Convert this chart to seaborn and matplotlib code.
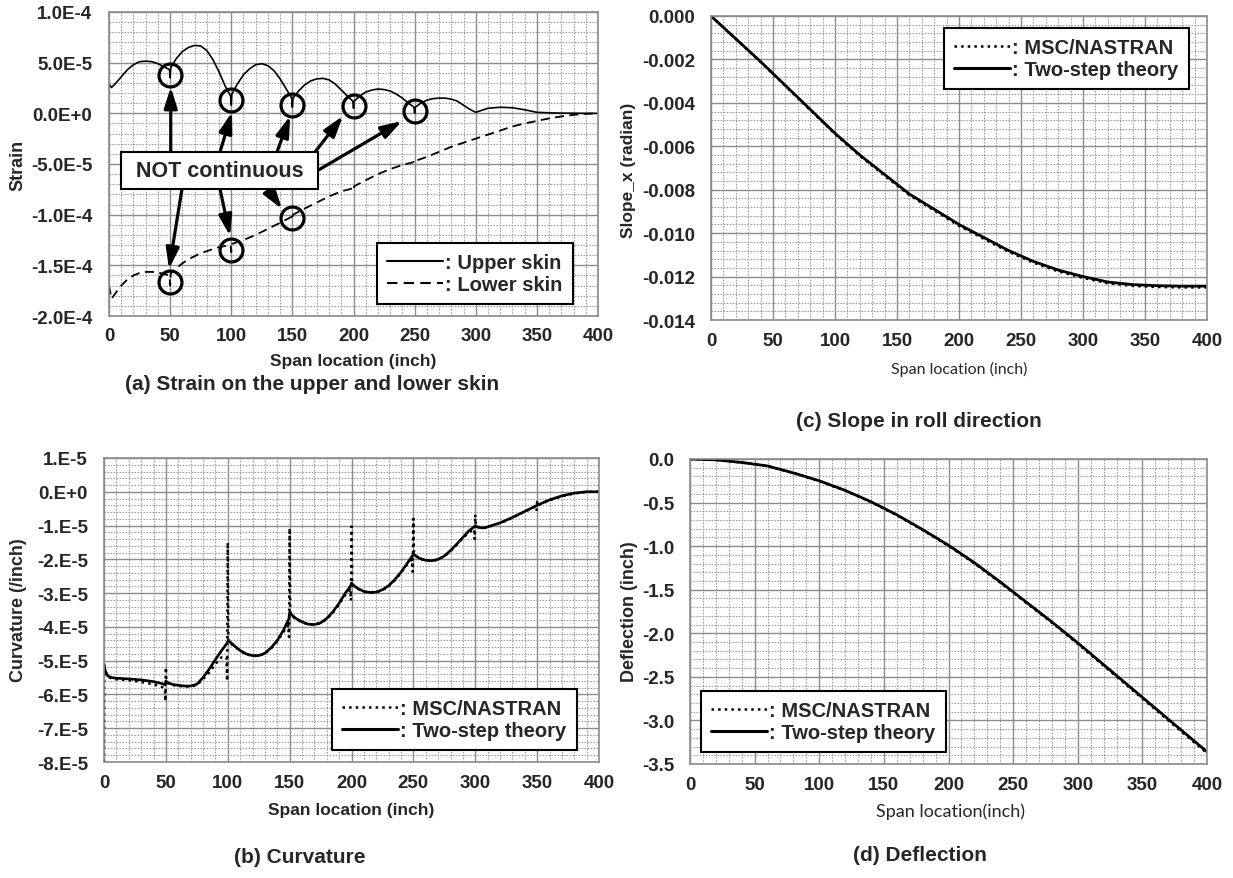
import matplotlib
matplotlib.use('Agg')
import matplotlib.pyplot as plt
import seaborn as sns
import numpy as np
import pandas as pd
from matplotlib.lines import Line2D
from matplotlib.patches import Rectangle
from matplotlib.ticker import MultipleLocator

# (a) strain on the skins
strain_x_upper = [0, 2, 5, 10, 15, 20, 25, 30, 35, 40, 45, 49.5, 50, 50.5, 55, 60, 65, 70, 75, 80, 85, 90, 95,
                  99.5, 100, 100.5, 105, 110, 115, 120, 125, 130, 135, 140, 145, 149.5, 150, 150.5, 155, 160,
                  165, 170, 175, 180, 185, 190, 195, 199.5, 200, 200.5, 205, 210, 215, 220, 225, 230, 235, 240,
                  245, 249.5, 250, 250.5, 255, 260, 265, 270, 275, 280, 285, 290, 295, 300, 305, 310, 320, 330,
                  340, 350, 360, 370, 380, 390, 400]
strain_upper = [2.9e-5, 2.55e-5, 2.9e-5, 3.6e-5, 4.3e-5, 4.8e-5, 5.1e-5, 5.15e-5, 5.1e-5, 4.9e-5, 4.6e-5, 4.3e-5,
                3.5e-5, 4.5e-5, 5.4e-5, 6.1e-5, 6.5e-5, 6.7e-5, 6.65e-5, 6.2e-5, 5.3e-5, 4.1e-5, 2.7e-5,
                1.7e-5, 8e-6, 1.9e-5, 2.9e-5, 3.8e-5, 4.4e-5, 4.8e-5, 4.9e-5, 4.7e-5, 4.2e-5, 3.4e-5, 2.4e-5,
                1.5e-5, 6e-6, 1.5e-5, 2.2e-5, 2.8e-5, 3.2e-5, 3.4e-5, 3.45e-5, 3.3e-5, 2.9e-5, 2.3e-5, 1.7e-5,
                1.2e-5, 5e-6, 1.2e-5, 1.7e-5, 2.1e-5, 2.3e-5, 2.4e-5, 2.35e-5, 2.2e-5, 1.9e-5, 1.5e-5, 1.0e-5,
                6e-6, 0.0, 6e-6, 1.0e-5, 1.3e-5, 1.45e-5, 1.5e-5, 1.5e-5, 1.4e-5, 1.2e-5, 8e-6, 4e-6, 1e-6,
                3e-6, 5e-6, 6e-6, 5.5e-6, 3.5e-6, 1e-6, 5e-7, 2e-7, 1e-7, 0.0, 0.0]
strain_x_lower = [0, 2, 5, 10, 15, 20, 25, 30, 35, 40, 45, 49.5, 50, 50.5, 55, 60, 65, 70, 75, 80, 85, 90, 95,
                  99.5, 100, 100.5, 105, 110, 120, 130, 140, 149.5, 150, 150.5, 160, 170, 180, 190, 199.5, 200,
                  200.5, 210, 220, 230, 240, 249.5, 250, 250.5, 260, 270, 280, 290, 300, 310, 320, 330, 340,
                  350, 360, 370, 380, 390, 400]
strain_lower = [-1.70e-4, -1.83e-4, -1.78e-4, -1.70e-4, -1.64e-4, -1.60e-4, -1.575e-4, -1.565e-4, -1.565e-4,
                -1.57e-4, -1.585e-4, -1.60e-4, -1.70e-4, -1.58e-4, -1.53e-4, -1.48e-4, -1.44e-4, -1.41e-4,
                -1.38e-4, -1.36e-4, -1.34e-4, -1.32e-4, -1.31e-4, -1.30e-4, -1.37e-4, -1.29e-4, -1.27e-4,
                -1.25e-4, -1.20e-4, -1.14e-4, -1.08e-4, -1.02e-4, -1.05e-4, -1.00e-4, -9.4e-5, -8.8e-5,
                -8.2e-5, -7.7e-5, -7.4e-5, -7.6e-5, -7.2e-5, -6.6e-5, -6.0e-5, -5.5e-5, -5.1e-5, -4.8e-5,
                -4.9e-5, -4.7e-5, -4.3e-5, -3.8e-5, -3.3e-5, -2.9e-5, -2.5e-5, -2.1e-5, -1.7e-5, -1.3e-5,
                -1.0e-5, -7.5e-6, -5e-6, -3e-6, -1.5e-6, -5e-7, 0.0]
# circled discontinuities
circle_x = [50, 100, 150, 200, 250, 50, 100, 150]
circle_y = [3.8e-5, 1.3e-5, 8e-6, 7e-6, 2.3e-6, -1.66e-4, -1.35e-4, -1.03e-4]

# (b) curvature
curv_x_two = [0, 1, 3, 6, 10, 20, 30, 40, 47, 49.5, 50, 51, 55, 60, 65, 70, 75, 80, 85, 90, 95, 99.5, 100, 102,
              105, 110, 115, 120, 125, 130, 135, 140, 145, 149.5, 150, 152, 155, 160, 165, 170, 175, 180, 185,
              190, 195, 199.5, 200, 202, 205, 210, 215, 220, 225, 230, 235, 240, 245, 249.5, 250, 252, 255, 260,
              265, 270, 275, 280, 285, 290, 295, 299.5, 300, 302, 306, 310, 320, 330, 340, 350, 360, 370, 380,
              390, 400]
curv_two = [-5.1e-5, -5.3e-5, -5.45e-5, -5.5e-5, -5.52e-5, -5.54e-5, -5.57e-5, -5.62e-5, -5.68e-5, -5.72e-5,
            -5.6e-5, -5.64e-5, -5.7e-5, -5.73e-5, -5.75e-5, -5.75e-5, -5.7e-5, -5.5e-5, -5.25e-5, -4.97e-5,
            -4.7e-5, -4.48e-5, -4.42e-5, -4.45e-5, -4.55e-5, -4.7e-5, -4.8e-5, -4.85e-5, -4.85e-5, -4.78e-5,
            -4.62e-5, -4.4e-5, -4.1e-5, -3.75e-5, -3.57e-5, -3.65e-5, -3.75e-5, -3.85e-5, -3.92e-5, -3.93e-5,
            -3.88e-5, -3.75e-5, -3.55e-5, -3.3e-5, -3.0e-5, -2.78e-5, -2.7e-5, -2.78e-5, -2.86e-5, -2.95e-5,
            -2.98e-5, -2.97e-5, -2.9e-5, -2.78e-5, -2.6e-5, -2.38e-5, -2.12e-5, -1.88e-5, -1.84e-5, -1.9e-5,
            -1.97e-5, -2.03e-5, -2.04e-5, -2.0e-5, -1.9e-5, -1.74e-5, -1.55e-5, -1.35e-5, -1.15e-5, -1.03e-5,
            -1.0e-5, -1.05e-5, -1.07e-5, -1.04e-5, -0.92e-5, -0.76e-5, -0.58e-5, -0.4e-5, -0.24e-5, -0.12e-5,
            -0.04e-5, 0.0, 0.0]
curv_x_nas = [0, 0.2, 2, 3, 6, 10, 20, 30, 40, 47, 49.3, 49.6, 50, 50.4, 55, 60, 70, 75, 80, 85, 90, 95, 99,
              99.5, 100, 100.5, 105, 110, 115, 120, 125, 130, 135, 140, 145, 149, 149.5, 150, 150.5, 155, 160,
              165, 170, 175, 180, 185, 190, 195, 199, 199.5, 200, 200.5, 205, 210, 215, 220, 225, 230, 235, 240,
              245, 249, 249.5, 250, 250.5, 255, 260, 265, 270, 275, 280, 285, 290, 295, 299, 299.5, 300, 300.5,
              306, 310, 320, 330, 340, 348, 349.5, 350, 350.5, 360, 370, 380, 390, 400]
curv_nas = [-8.0e-5, -5.2e-5, -5.4e-5, -5.48e-5, -5.52e-5, -5.55e-5, -5.58e-5, -5.63e-5, -5.7e-5, -5.78e-5,
            -5.85e-5, -6.2e-5, -5.2e-5, -5.65e-5, -5.72e-5, -5.75e-5, -5.77e-5, -5.72e-5, -5.55e-5, -5.35e-5,
            -5.1e-5, -4.9e-5, -4.9e-5, -5.6e-5, -1.5e-5, -4.45e-5, -4.56e-5, -4.71e-5, -4.81e-5, -4.86e-5,
            -4.86e-5, -4.79e-5, -4.64e-5, -4.43e-5, -4.15e-5, -3.95e-5, -4.3e-5, -1.08e-5, -3.62e-5, -3.77e-5,
            -3.86e-5, -3.93e-5, -3.94e-5, -3.89e-5, -3.77e-5, -3.58e-5, -3.33e-5, -3.05e-5, -2.9e-5, -3.22e-5,
            -1.03e-5, -2.75e-5, -2.87e-5, -2.96e-5, -2.99e-5, -2.98e-5, -2.91e-5, -2.8e-5, -2.62e-5, -2.4e-5,
            -2.15e-5, -2.0e-5, -2.37e-5, -0.8e-5, -1.86e-5, -1.98e-5, -2.04e-5, -2.05e-5, -2.01e-5, -1.91e-5,
            -1.76e-5, -1.57e-5, -1.37e-5, -1.2e-5, -1.1e-5, -1.4e-5, -0.68e-5, -1.02e-5, -1.08e-5, -1.05e-5,
            -0.93e-5, -0.77e-5, -0.59e-5, -0.45e-5, -0.57e-5, -0.3e-5, -0.4e-5, -0.25e-5, -0.13e-5, -0.05e-5,
            0.0, 0.0]

# (c) slope and (d) deflection
span_x = [0, 20, 40, 60, 80, 100, 120, 140, 160, 180, 200, 220, 240, 260, 280, 300, 320, 340, 360, 380, 400]
slope_two = [0.0, -0.00105, -0.0021, -0.0032, -0.0043, -0.0054, -0.0064, -0.0073, -0.0082, -0.0089, -0.0096,
             -0.0102, -0.0108, -0.0113, -0.0117, -0.0120, -0.01225, -0.01237, -0.01242, -0.01244, -0.01244]
slope_nas = [0.0, -0.00106, -0.00212, -0.00322, -0.00433, -0.00543, -0.00644, -0.00735, -0.00825, -0.00896,
             -0.00966, -0.01026, -0.01086, -0.01136, -0.01176, -0.01206, -0.01231, -0.01243, -0.01248,
             -0.0125, -0.0125]
defl_two = [0.0, -0.01, -0.04, -0.08, -0.16, -0.25, -0.36, -0.49, -0.64, -0.81, -0.99, -1.19, -1.41, -1.64,
            -1.87, -2.11, -2.36, -2.61, -2.86, -3.11, -3.36]
defl_nas = [0.0, -0.01, -0.04, -0.081, -0.161, -0.252, -0.363, -0.494, -0.645, -0.816, -0.997, -1.198,
            -1.419, -1.649, -1.88, -2.121, -2.372, -2.623, -2.874, -3.125, -3.375]

strain_ticks = [1e-4, 5e-5, 0, -5e-5, -1e-4, -1.5e-4, -2e-4]
strain_labels = ['1.0E-4', '5.0E-5', '0.0E+0', '-5.0E-5', '-1.0E-4', '-1.5E-4', '-2.0E-4']
curv_ticks = [1e-5, 0, -1e-5, -2e-5, -3e-5, -4e-5, -5e-5, -6e-5, -7e-5, -8e-5]
curv_labels = ['1.E-5', '0.E+0', '-1.E-5', '-2.E-5', '-3.E-5', '-4.E-5', '-5.E-5', '-6.E-5', '-7.E-5', '-8.E-5']
slope_ticks = [0, -0.002, -0.004, -0.006, -0.008, -0.010, -0.012, -0.014]
slope_labels = ['0.000', '-0.002', '-0.004', '-0.006', '-0.008', '-0.010', '-0.012', '-0.014']
defl_ticks = [0, -0.5, -1.0, -1.5, -2.0, -2.5, -3.0, -3.5]
defl_labels = ['0.0', '-0.5', '-1.0', '-1.5', '-2.0', '-2.5', '-3.0', '-3.5']
span_ticks = [0, 50, 100, 150, 200, 250, 300, 350, 400]

sns.set_style('white')
plt.rcParams['font.family'] = ['Liberation Sans', 'DejaVu Sans']
plt.rcParams['font.weight'] = 'bold'

W, H = 1233, 879
fig = plt.figure(figsize=(W / 100, H / 100), dpi=100)


def box(l, t, r, b):
    return [l / W, 1 - b / H, (r - l) / W, (b - t) / H]


def fx(px):
    return px / W


def fy(py):
    return 1 - py / H


def style_axes(ax, yticks, ylabels, ylim, ymin, ypad, xpad):
    ax.set_xlim(0, 400)
    ax.set_ylim(*ylim)
    ax.set_xticks(span_ticks)
    ax.set_xticklabels([str(t) for t in span_ticks])
    ax.set_yticks(yticks)
    ax.set_yticklabels(ylabels)
    ax.xaxis.set_minor_locator(MultipleLocator(10))
    ax.yaxis.set_minor_locator(MultipleLocator(ymin))
    ax.grid(which='major', color='#8c8c8c', lw=1.0, ls='-')
    ax.grid(which='minor', color='#a0a0a0', lw=0.8, ls=(0, (1.5, 1.2)))
    ax.set_axisbelow(True)
    ax.tick_params(which='both', length=0, labelsize=13.5)
    ax.tick_params(axis='y', pad=ypad)
    ax.tick_params(axis='x', pad=xpad)
    for s in ax.spines.values():
        s.set_color('#8c8c8c')
        s.set_linewidth(1.2)
    ax.set_xlabel('')
    ax.set_ylabel('')


def add_legend(ax, handles, labels, left, top):
    leg = ax.legend(handles, labels, loc='upper left', bbox_to_anchor=(fx(left), fy(top)),
                    bbox_transform=fig.transFigure, borderaxespad=0, fancybox=False, framealpha=1,
                    edgecolor='black', handlelength=2.8, handletextpad=0.1, borderpad=0.5,
                    labelspacing=0.15, prop={'size': 14.5, 'weight': 'bold'})
    leg.get_frame().set_linewidth(1.5)
    leg.set_zorder(10)


# ---- (a) ----
ax_a = fig.add_axes(box(109, 13, 598, 317))
sns.lineplot(x=strain_x_upper, y=strain_upper, ax=ax_a, color='black', lw=1.2,
             estimator=None, sort=False, legend=False)
sns.lineplot(x=strain_x_lower, y=strain_lower, ax=ax_a, color='black', lw=1.3,
             estimator=None, sort=False, legend=False, dashes=False)
ax_a.lines[-1].set_linestyle((0, (5, 3)))
style_axes(ax_a, strain_ticks, strain_labels, (-2e-4, 1e-4), 1e-5, 12, 8)
ax_a.plot(circle_x, circle_y, ls='none', marker='o', ms=16.5, mfc='none', mec='black', mew=2.3, zorder=5)

arrows = [((50.5, -3.82e-5), (50.5, 2.6e-5)),
          ((90.8, -3.82e-5), (100.6, 1.3e-6)),
          ((137.4, -3.82e-5), (148.1, -2.6e-6)),
          ((168.0, -3.9e-5), (191.4, -2.6e-6)),
          ((170.0, -5.69e-5), (239.7, -7.6e-6)),
          ((59.7, -7.47e-5), (49.1, -1.536e-4)),
          ((90.8, -7.47e-5), (99.0, -1.21e-4)),
          ((130.0, -7.47e-5), (141.5, -9.44e-5))]
for start, end in arrows:
    ax_a.annotate('', xy=end, xytext=start, zorder=6,
                  arrowprops=dict(arrowstyle='-|>,head_length=0.7,head_width=0.22', lw=2.3, color='black',
                                  mutation_scale=18, shrinkA=0, shrinkB=0))
ax_a.add_patch(Rectangle((9.8, -7.47e-5), 161.2, 3.65e-5, facecolor='white', edgecolor='black',
                         lw=1.5, zorder=7))
ax_a.text(90.4, -5.65e-5, 'NOT continuous', ha='center', va='center', fontsize=15.5,
          fontweight='bold', zorder=8)
add_legend(ax_a, [Line2D([], [], color='black', lw=1.5),
                  Line2D([], [], color='black', lw=1.5, ls=(0, (5, 3)))],
           [': Upper skin', ': Lower skin'], 377, 244)

# ---- (b) ----
ax_b = fig.add_axes(box(104, 459, 599, 763))
sns.lineplot(x=curv_x_nas, y=curv_nas, ax=ax_b, color='black', lw=1.8,
             estimator=None, sort=False, legend=False)
ax_b.lines[-1].set_linestyle(':')
sns.lineplot(x=curv_x_two, y=curv_two, ax=ax_b, color='black', lw=1.9,
             estimator=None, sort=False, legend=False)
style_axes(ax_b, curv_ticks, curv_labels, (-8e-5, 1e-5), 2e-6, 11.5, 9)
add_legend(ax_b, [Line2D([], [], color='black', lw=1.8, ls=':'),
                  Line2D([], [], color='black', lw=2.2)],
           [': MSC/NASTRAN', ': Two-step theory'], 332, 690)

# ---- (c) ----
ax_c = fig.add_axes(box(711, 17, 1207, 321))
sns.lineplot(x=span_x, y=slope_nas, ax=ax_c, color='black', lw=1.8,
             estimator=None, sort=False, legend=False)
ax_c.lines[-1].set_linestyle(':')
sns.lineplot(x=span_x, y=slope_two, ax=ax_c, color='black', lw=2.0,
             estimator=None, sort=False, legend=False)
style_axes(ax_c, slope_ticks, slope_labels, (-0.014, 0), 0.0004, 11.5, 9)
add_legend(ax_c, [Line2D([], [], color='black', lw=1.8, ls=':'),
                  Line2D([], [], color='black', lw=2.2)],
           [': MSC/NASTRAN', ': Two-step theory'], 944, 29)

# ---- (d) ----
ax_d = fig.add_axes(box(690, 460, 1207, 765))
sns.lineplot(x=span_x, y=defl_nas, ax=ax_d, color='black', lw=1.8,
             estimator=None, sort=False, legend=False)
ax_d.lines[-1].set_linestyle(':')
sns.lineplot(x=span_x, y=defl_two, ax=ax_d, color='black', lw=2.0,
             estimator=None, sort=False, legend=False)
style_axes(ax_d, defl_ticks, defl_labels, (-3.5, 0), 0.1, 11, 9)
add_legend(ax_d, [Line2D([], [], color='black', lw=1.8, ls=':'),
                  Line2D([], [], color='black', lw=2.2)],
           [': MSC/NASTRAN', ': Two-step theory'], 701, 692)

# axis labels
fig.text(fx(353), fy(362), 'Span location (inch)', ha='center', va='center', fontsize=12.5, fontweight='bold')
fig.text(fx(351), fy(811), 'Span location (inch)', ha='center', va='center', fontsize=12.5, fontweight='bold')
fig.text(fx(959), fy(369), 'Span location (inch)', ha='center', va='center', fontsize=11.5,
         fontweight='normal', family=['Lato', 'DejaVu Sans'])
fig.text(fx(950), fy(812), 'Span location(inch)', ha='center', va='center', fontsize=13,
         fontweight='normal', family=['Lato', 'DejaVu Sans'])
fig.text(fx(18), fy(165), 'Strain', rotation=90, ha='center', va='center', fontsize=13, fontweight='bold')
fig.text(fx(19), fy(610), 'Curvature (/inch)', rotation=90, ha='center', va='center', fontsize=13,
         fontweight='bold')
fig.text(fx(628), fy(170), 'Slope_x (radian)', rotation=90, ha='center', va='center', fontsize=12.5,
         fontweight='bold')
fig.text(fx(629), fy(612), 'Deflection (inch)', rotation=90, ha='center', va='center', fontsize=13,
         fontweight='bold')

# panel captions
fig.text(fx(312), fy(384), '(a) Strain on the upper and lower skin', ha='center', va='center',
         fontsize=15, fontweight='bold')
fig.text(fx(300), fy(858), '(b) Curvature', ha='center', va='center', fontsize=15, fontweight='bold')
fig.text(fx(919), fy(422), '(c) Slope in roll direction', ha='center', va='center', fontsize=15,
         fontweight='bold')
fig.text(fx(920), fy(856), '(d) Deflection', ha='center', va='center', fontsize=15, fontweight='bold')

fig.savefig('out.png', dpi=100, facecolor='white')
